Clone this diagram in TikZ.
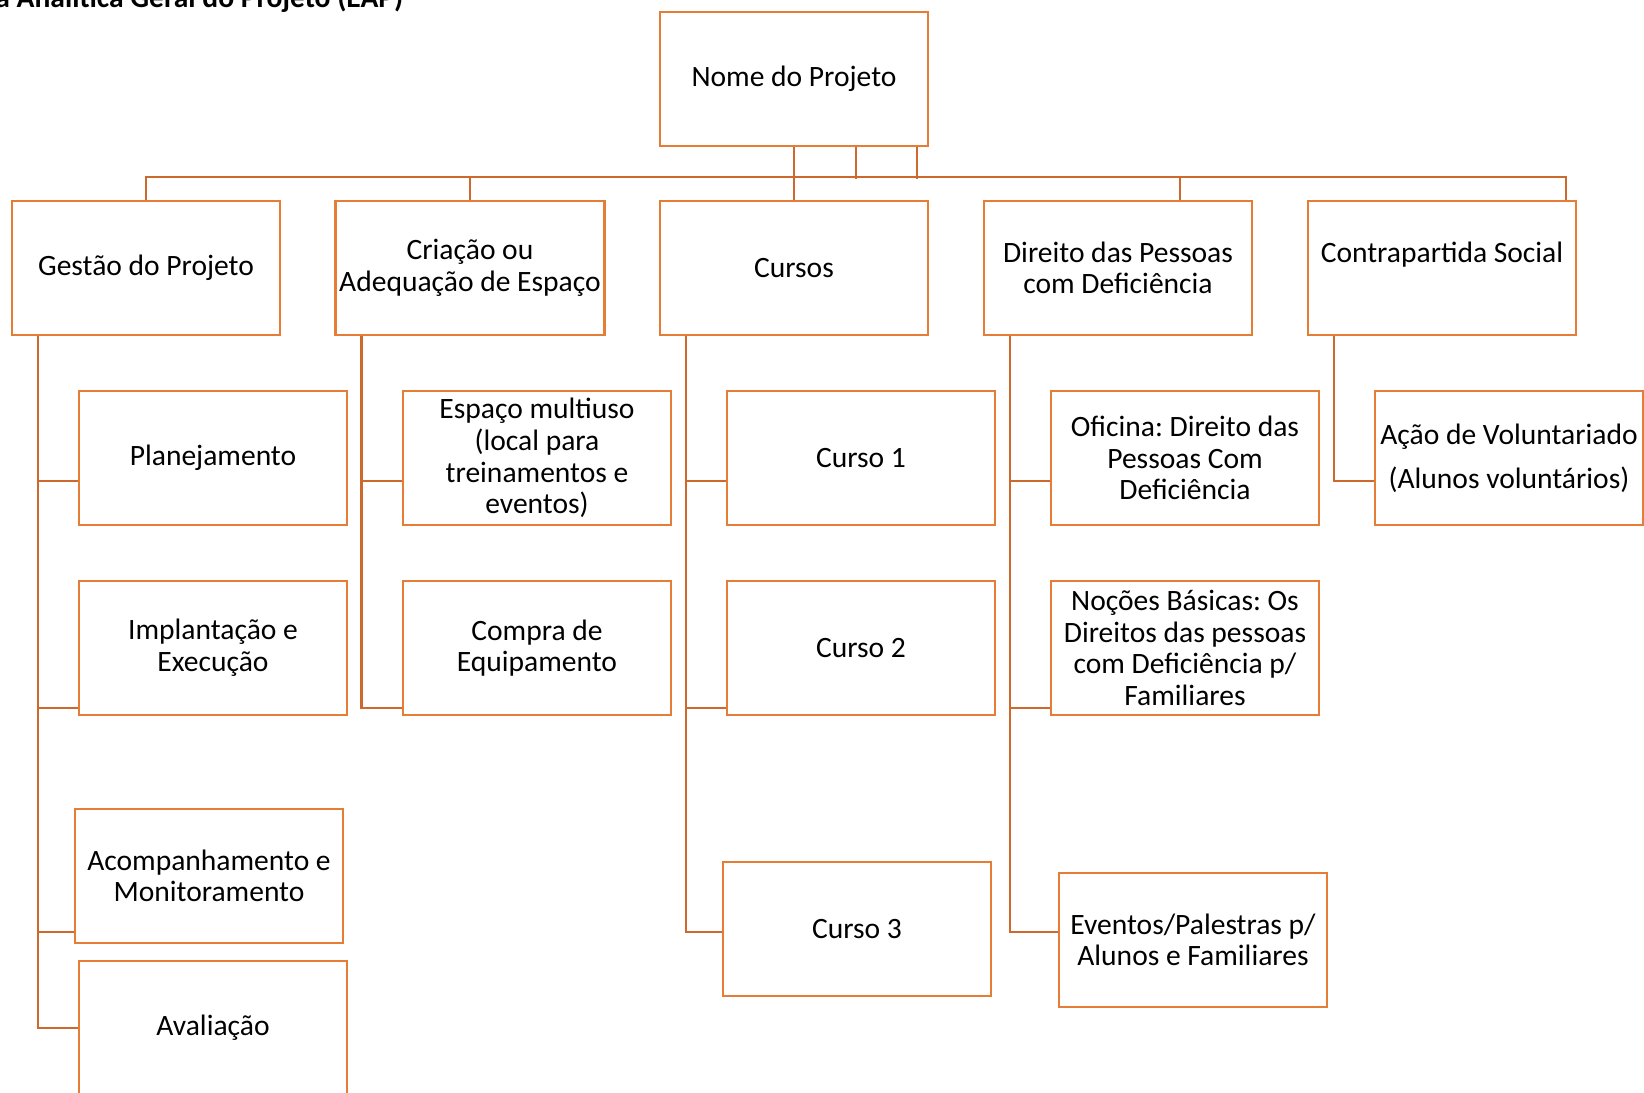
\documentclass[tikz,border=0pt]{standalone}
\usepackage{fontspec}
\setmainfont{Carlito}
\usetikzlibrary{positioning, calc}
\definecolor{laranja}{RGB}{230,125,55}
\definecolor{laranjaesc}{RGB}{205,105,45}
\frenchspacing

\begin{document}
\begin{tikzpicture}[x=0.01cm, y=-0.01cm,
    caixa/.style={rectangle, draw=laranja, line width=0.7pt, minimum width=2.68cm, minimum height=1.34cm,
      align=center, inner sep=1pt, font=\fontsize{8.4}{9}\selectfont},
    liga/.style={draw=laranjaesc, line width=0.65pt}]
  \useasboundingbox (0,0) rectangle (1644,1093);

  % Title
  \node[anchor=base east, inner sep=0pt, font=\fontsize{8.4}{9}\selectfont\bfseries] (titulo) at (404,7) {Estrutura Analítica Geral do Projeto (EAP)};

  % Nodes
  \node[caixa] (raiz) at (794,79) {Nome do Projeto};
  \node[caixa] (gestao) at (146,268) {Gestão do Projeto};
  \node[caixa] (criacao) at (470,268) {Criação ou\\Adequação de Espaço};
  \node[caixa] (cursos) at (794,268) {Cursos};
  \node[caixa] (direito) at (1118,268) {Direito das Pessoas\\com Deficiência};
  \node[caixa] (contra) at (1442,268) {Contrapartida Social\\ \phantom{C}};

  \node[caixa] (plan) at (213,458) {Planejamento};
  \node[caixa] (implant) at (213,648) {Implantação e\\Execução};
  \node[caixa] (acomp) at (209,876) {Acompanhamento e\\Monitoramento};
  \node[caixa] (aval) at (213,1028) {Avaliação};

  \node[caixa] (espaco) at (537,458) {Espaço multiuso\\(local para\\treinamentos e\\eventos)};
  \node[caixa] (compra) at (537,648) {Compra de\\Equipamento};

  \foreach \i/\yy in {1/458,2/648}
  \node[caixa] (curso\i) at (861,\yy) {Curso \i};
  \node[caixa] (curso3) at (857,929) {Curso 3};

  \node[caixa] (oficina) at (1185,458) {Oficina: Direito das\\Pessoas Com\\Deficiência};
  \node[caixa] (nocoes) at (1185,648) {Noções Básicas: Os\\Direitos das pessoas\\com Deficiência p/\\Familiares};
  \node[caixa] (eventos) at (1193,940) {Eventos/Palestras p/\\Alunos e Familiares};

  \node[caixa] (acao) at (1509,458) {Ação de Voluntariado\\[3.6pt](Alunos voluntários)};

  % Lines
  \foreach \dx in {0,62,123}
  \draw[liga] ($(raiz.south)+(\dx,0)$) -- ++(0,32);
  \draw[liga] (gestao.north) -- ++(0,-23) -| ($(contra.north east)+(-11,0)$);
  \foreach \n in {criacao,cursos}
  \draw[liga] (\n.north) -- ++(0,-23);
  \draw[liga] ($(direito.north)+(62,0)$) -- ++(0,-23);

  \foreach \pai/\filho/\dy in {gestao/plan/23, gestao/implant/60, gestao/acomp/56, gestao/aval/0,
      criacao/espaco/23, criacao/compra/60,
      cursos/curso1/23, cursos/curso2/60, cursos/curso3/3,
      direito/oficina/23, direito/nocoes/60, direito/eventos/-8,
      contra/acao/23}
  \draw[liga] ($(\pai.south west)+(27,0)$) |- ($(\filho.west)+(0,\dy)$);
\end{tikzpicture}
\end{document}
